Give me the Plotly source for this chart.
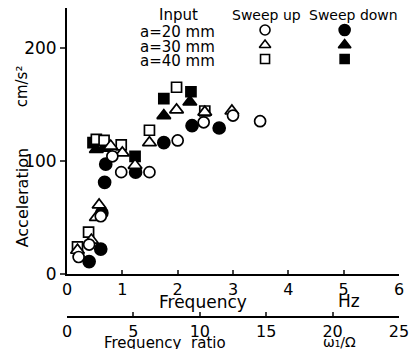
import plotly.graph_objects as go

# ---- data (Hz, cm/s^2) ----
c_up_x = [0.21, 0.40, 0.61, 0.82, 0.98, 1.49, 2.00, 2.47, 3.00, 3.49]
c_up_y = [15, 26, 51, 104, 90, 90, 118, 134, 140, 135]
c_dn_x = [0.40, 0.61, 0.63, 0.68, 0.70, 1.24, 1.75, 2.26, 2.75]
c_dn_y = [11, 22, 54, 81, 97, 90, 116, 131, 129]
t_up_x = [0.19, 0.44, 0.53, 0.58, 0.79, 1.00, 1.23, 1.49, 1.98, 2.49, 2.98]
t_up_y = [21, 30, 50, 61, 113, 107, 96, 116, 145, 143, 144]
t_dn_x = [0.53, 1.75, 2.22]
t_dn_y = [110, 140, 152]
s_up_x = [0.19, 0.39, 0.53, 0.67, 0.98, 1.49, 1.98, 2.49]
s_up_y = [24, 37, 119, 118, 114, 127, 165, 144]
s_dn_x = [0.47, 0.70, 1.23, 1.75, 2.24]
s_dn_y = [116, 113, 104, 155, 161]

hz_ticks = [0, 1, 2, 3, 4, 5, 6]
ratio_ticks = [0, 5, 10, 15, 20, 25]
acc_ticks = [0, 100, 200]

W, H = 415, 349
L, R, T, B = 67, 409, 8, 317   # paper box in pixels
Y0 = 274                       # pixel row of acceleration 0

def pxx(p):
    return (p - L) / (R - L)

def pxy(p):
    return (B - p) / (B - T)

FONT = "DejaVu Sans"
fig = go.Figure()

def add(x, y, symbol, size, filled):
    fig.add_trace(go.Scatter(
        x=x, y=y, mode="markers", xaxis="x", yaxis="y",
        marker=dict(symbol=symbol, size=size, opacity=1,
                    color="black" if filled else "white",
                    line=dict(color="black", width=1.7)),
        hoverinfo="skip"))

add(s_dn_x, s_dn_y, "square", 10, True)
add(t_dn_x, t_dn_y, "triangle-up", 12, True)
add(c_dn_x, c_dn_y, "circle", 12, True)
add(s_up_x, s_up_y, "square", 10, False)
add(t_up_x, t_up_y, "triangle-up", 12, False)
add(c_up_x, c_up_y, "circle", 11, False)

# dummy trace so second (ratio) axis is drawn
fig.add_trace(go.Scatter(x=[None], y=[None], xaxis="x2", yaxis="y",
                         mode="markers", showlegend=False))

# legend keys on a pixel-mapped hidden axis pair covering the paper
key_x = [271, 271, 271, 353, 353, 353]
key_y = [30, 45, 59, 30, 45, 59]
key_sym = ["circle", "triangle-up", "square", "circle", "triangle-up", "square"]
key_fill = [False, False, False, True, True, True]
key_size = [10, 10, 9, 11, 11, 9]
for kx, ky, ks, kf, kz in zip(key_x, key_y, key_sym, key_fill, key_size):
    fig.add_trace(go.Scatter(
        x=[kx], y=[ky], xaxis="x3", yaxis="y3", mode="markers",
        marker=dict(symbol=ks, size=kz, opacity=1,
                    color="black" if kf else "white",
                    line=dict(color="black", width=1.6)),
        hoverinfo="skip"))

ydom0 = (B - Y0) / (B - T)

fig.update_layout(
    width=W, height=H,
    margin=dict(l=L, r=W - R, t=T, b=H - B, pad=0),
    paper_bgcolor="white", plot_bgcolor="rgba(0,0,0,0)",
    showlegend=False,
    font=dict(family=FONT, color="black", size=16),
    xaxis=dict(range=[0, 6], domain=[0, 1], anchor="y",
               tickvals=hz_ticks, ticks="inside", ticklen=4, tickwidth=1.5,
               showline=True, linecolor="black", linewidth=1.5,
               showgrid=False, zeroline=False,
               tickfont=dict(size=16, family=FONT)),
    xaxis2=dict(range=[0, 25], domain=[0, (393 - L) / (R - L)],
                anchor="free", position=0, overlaying="x",
                tickvals=ratio_ticks, ticks="inside", ticklen=4, tickwidth=1.5,
                showline=True, linecolor="black", linewidth=1.5,
                showgrid=False, zeroline=False, side="bottom",
                tickfont=dict(size=16, family=FONT)),
    yaxis=dict(range=[0, 235], domain=[ydom0, 1], anchor="x",
               tickvals=acc_ticks, ticks="outside", ticklen=5, tickwidth=1.5,
               showline=True, linecolor="black", linewidth=2,
               showgrid=False, zeroline=False,
               tickfont=dict(size=17, family=FONT)),
    xaxis3=dict(range=[L, R], domain=[0, 1], visible=False, anchor="y3",
                fixedrange=True),
    yaxis3=dict(range=[B, T], domain=[0, 1], visible=False, anchor="x3",
                fixedrange=True),
)

def ann(text, x, y, size, angle=0, xanchor="center"):
    fig.add_annotation(text=text, x=pxx(x), y=pxy(y), xref="paper",
                       yref="paper", showarrow=False, textangle=angle,
                       xanchor=xanchor, yanchor="middle",
                       font=dict(size=size, family=FONT, color="black"))

ann("Acceleration", 21, 198, 16, -90)
ann("cm/s²", 21, 86, 15, -90)
ann("Frequency", 207, 302, 17)
ann("Hz", 358, 301, 17)
ann("Frequency  ratio", 168, 343, 15)
ann("ω₁/Ω", 348, 342, 14)
ann("Input", 182, 15, 15)
ann("a=20 mm", 140, 32, 15, xanchor="left")
ann("a=30 mm", 140, 47, 15, xanchor="left")
ann("a=40 mm", 140, 61, 15, xanchor="left")
ann("Sweep up", 273, 15, 14)
ann("Sweep down", 362, 15, 14)

fig.write_html("out.html")
